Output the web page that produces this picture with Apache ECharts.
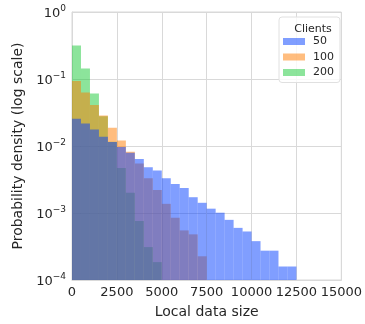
<!DOCTYPE html>
<html>
<head>
<meta charset="utf-8">
<script src="https://cdn.jsdelivr.net/npm/echarts@6/dist/echarts.min.js"></script>
<style>
  html, body { margin: 0; padding: 0; background: #fff; }
  #chart { width: 365px; height: 324px; }
</style>
</head>
<body>
<div id="chart"></div>
<script>
// histogram bins are 500 wide, starting at 0
const binWidth = 500
const xTicks = [0, 2500, 5000, 7500, 10000, 12500, 15000]
const yTicks = [1e-4, 1e-3, 1e-2, 1e-1, 1]

// density per bin
const clients50 = [0.0255, 0.0217, 0.0177, 0.0138, 0.0115, 0.0097, 0.0079, 0.0064, 0.0048, 0.0043,
  0.0033, 0.0027, 0.00236, 0.00172, 0.00142, 0.00116, 0.00101, 0.00079, 0.0006, 0.00053,
  0.00038, 0.000274, 0.000274, 0.000159, 0.000159]
const clients100 = [0.0936, 0.063, 0.041, 0.0285, 0.0188, 0.0121, 0.0082, 0.0055, 0.0033, 0.0022,
  0.00137, 0.00085, 0.00055, 0.00048, 0.000226]
const clients200 = [0.315, 0.143, 0.061, 0.0277, 0.0116, 0.0047, 0.002, 0.00076, 0.00031, 0.000185]

const seriesNames = ['50', '100', '200']
const seriesColors = ['rgba(2,62,255,0.5)', 'rgba(255,124,0,0.5)', 'rgba(26,201,56,0.5)']

const textColor = '#262626'
const gridColor = '#d9d9d9'

function toBins(values) {
  return values.map((v, i) => [i * binWidth, (i + 1) * binWidth, v])
}

function renderBar(params, api) {
  const top = api.coord([api.value(0), api.value(2)])
  const bottom = api.coord([api.value(1), yTicks[0]])
  return {
    type: 'rect',
    shape: { x: top[0], y: top[1], width: bottom[0] - top[0], height: bottom[1] - top[1] },
    style: api.style()
  }
}

function histSeries(name, values, color) {
  return {
    name: name,
    type: 'custom',
    renderItem: renderBar,
    encode: { x: [0, 1], y: 2 },
    itemStyle: { color: color },
    data: toBins(values),
    animation: false
  }
}

let chart = echarts.init(document.getElementById('chart'), null, { renderer: 'canvas' })

let option = {
  textStyle: { fontFamily: 'DejaVu Sans' },
  grid: {
    left: 72, right: 22.5, top: 12, bottom: 41,
    show: true, borderColor: gridColor, borderWidth: 1
  },
  title: {
    text: 'Clients',
    left: 308, top: 19,
    textAlign: 'center',
    textStyle: { fontSize: 11, fontWeight: 'normal', color: textColor, fontFamily: 'DejaVu Sans' }
  },
  legend: {
    data: seriesNames,
    orient: 'vertical',
    left: 279, top: 17,
    icon: 'rect',
    itemWidth: 22, itemHeight: 7,
    itemGap: 3.5,
    padding: [18.5, 6, 4, 4],
    borderColor: '#e0e0e0', borderWidth: 1, borderRadius: 3,
    backgroundColor: 'rgba(255,255,255,0.8)',
    textStyle: { fontSize: 11, color: textColor, lineHeight: 12, padding: [0, 0, 0, 3] }
  },
  xAxis: {
    type: 'value',
    min: xTicks[0], max: xTicks[xTicks.length - 1], interval: 2500,
    name: 'Local data size',
    nameLocation: 'middle',
    nameGap: 25,
    nameTextStyle: { fontSize: 14, color: textColor },
    axisLine: { show: true, lineStyle: { color: gridColor } },
    axisTick: { show: false },
    axisLabel: { fontSize: 13, color: textColor, margin: 6, formatter: v => String(v) },
    splitLine: { show: true, lineStyle: { color: gridColor, width: 1 } }
  },
  yAxis: {
    type: 'log',
    logBase: 10,
    min: yTicks[0], max: yTicks[yTicks.length - 1],
    name: 'Probability density (log scale)',
    nameLocation: 'middle',
    nameGap: 46,
    nameTextStyle: { fontSize: 14, color: textColor },
    axisLine: { show: true, lineStyle: { color: gridColor } },
    axisTick: { show: false },
    minorTick: { show: false },
    axisLabel: {
      margin: 6,
      formatter: function (v) {
        const e = Math.round(Math.log10(v))
        return '{b|10}{e|' + (e < 0 ? '\u2212' + (-e) : e) + '}'
      },
      rich: {
        b: { fontSize: 13, color: textColor, lineHeight: 16, verticalAlign: 'bottom' },
        e: { fontSize: 9, color: textColor, lineHeight: 10, verticalAlign: 'top' }
      }
    },
    splitLine: { show: true, lineStyle: { color: gridColor, width: 1 } }
  },
  // green drawn first, blue on top
  series: [
    histSeries(seriesNames[2], clients200, seriesColors[2]),
    histSeries(seriesNames[1], clients100, seriesColors[1]),
    histSeries(seriesNames[0], clients50, seriesColors[0])
  ]
}

option && chart.setOption(option)
</script>
</body>
</html>
